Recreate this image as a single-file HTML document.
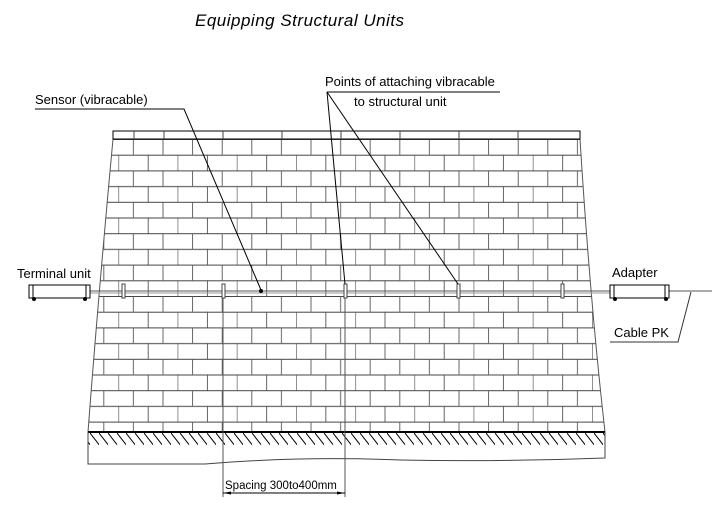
<!DOCTYPE html>
<html><head><meta charset="utf-8"><style>
html,body{margin:0;padding:0;background:#fff;}
svg{display:block;}
text{font-family:"Liberation Sans",sans-serif;fill:#000;}
</style></head><body>
<svg width="725" height="522" viewBox="0 0 725 522" xmlns="http://www.w3.org/2000/svg">
<defs>
<pattern id="br" x="0" y="139" width="59.2" height="31.4" patternUnits="userSpaceOnUse">
<line x1="0" y1="0.5" x2="59.2" y2="0.5" stroke="#444" stroke-width="0.9"/>
<line x1="0" y1="16.2" x2="59.2" y2="16.2" stroke="#444" stroke-width="0.9"/>
<line x1="15" y1="0" x2="15" y2="15.7" stroke="#555" stroke-width="0.9"/>
<line x1="44.6" y1="0" x2="44.6" y2="15.7" stroke="#555" stroke-width="0.9"/>
<line x1="0.2" y1="15.7" x2="0.2" y2="31.4" stroke="#555" stroke-width="0.9"/>
<line x1="29.8" y1="15.7" x2="29.8" y2="31.4" stroke="#555" stroke-width="0.9"/>
</pattern>
<pattern id="hat" x="0" y="432" width="9" height="24" patternUnits="userSpaceOnUse">
<line x1="0" y1="1" x2="14" y2="19" stroke="#000" stroke-width="1"/>
</pattern>
<clipPath id="wall"><path d="M113,139 L580,139 Q590,300 605,432 L88,432 Q98,300 113,139 Z"/></clipPath>
</defs>
<text x="195" y="26" font-size="17" font-style="italic" letter-spacing="0.5">Equipping Structural Units</text>

<rect x="80" y="120" width="540" height="320" fill="url(#br)" clip-path="url(#wall)"/>
<path d="M113,139 Q98,300 88,432" fill="none" stroke="#555"/>
<path d="M580,139 Q590,300 605,432" fill="none" stroke="#555"/>
<rect x="113" y="131" width="467" height="8" fill="none" stroke="#000"/>
<line x1="134" y1="131" x2="134" y2="139" stroke="#444"/>
<line x1="164" y1="131" x2="164" y2="139" stroke="#444"/>
<line x1="223" y1="131" x2="223" y2="139" stroke="#444"/>
<line x1="282" y1="131" x2="282" y2="139" stroke="#444"/>
<line x1="341" y1="131" x2="341" y2="139" stroke="#444"/>
<line x1="400" y1="131" x2="400" y2="139" stroke="#444"/>
<line x1="459" y1="131" x2="459" y2="139" stroke="#444"/>
<line x1="518" y1="131" x2="518" y2="139" stroke="#444"/>
<rect x="88" y="432" width="517" height="20" fill="url(#hat)"/>
<line x1="88" y1="432" x2="605" y2="432" stroke="#000" stroke-width="2"/>
<path d="M88,432 L88,464 L205,464 Q300,456 400,460 Q500,462 605,458 L605,432" fill="none" stroke="#444"/>

<line x1="90" y1="291" x2="712" y2="291" stroke="#555"/>
<line x1="90" y1="293" x2="610" y2="293" stroke="#999"/>
<g fill="#fff" stroke="#444">
<rect x="122" y="284" width="3" height="14"/>
<rect x="222" y="284" width="3" height="14"/>
<rect x="344" y="284" width="3" height="14"/>
<rect x="457" y="284" width="3" height="14"/>
<rect x="561" y="284" width="3" height="14"/>
</g>
<circle cx="261" cy="291" r="2" fill="#000"/>
<g stroke="#000" fill="#fff">
<rect x="29" y="285" width="61" height="13"/>
<line x1="33" y1="285" x2="33" y2="298"/><line x1="86" y1="285" x2="86" y2="298"/>
<circle cx="34" cy="299" r="1.5" fill="#000"/><circle cx="85" cy="299" r="1.5" fill="#000"/>
<rect x="610" y="285" width="59" height="13"/>
<line x1="614" y1="285" x2="614" y2="298"/><line x1="665" y1="285" x2="665" y2="298"/>
<circle cx="615" cy="299" r="1.5" fill="#000"/><circle cx="666" cy="299" r="1.5" fill="#000"/>
</g>
<text x="17" y="278" font-size="13">Terminal unit</text>
<text x="612" y="277" font-size="13">Adapter</text>
<text x="614" y="337" font-size="13">Cable PK</text>
<polyline points="691,292 678,342 610,342" fill="none" stroke="#333"/>

<text x="35" y="104" font-size="13">Sensor (vibracable)</text>
<polyline points="35,109 184,109 261,290" fill="none" stroke="#000"/>
<text x="325" y="86" font-size="13">Points of attaching vibracable</text>
<text x="354" y="106" font-size="13">to structural unit</text>
<line x1="327" y1="92" x2="500" y2="92" stroke="#000"/>
<line x1="327" y1="92" x2="345" y2="284" stroke="#000"/>
<line x1="327" y1="92" x2="458" y2="284" stroke="#000"/>

<line x1="223" y1="298" x2="223" y2="497" stroke="#555"/>
<line x1="345" y1="298" x2="345" y2="497" stroke="#555"/>
<line x1="223" y1="493" x2="345" y2="493" stroke="#000"/>
<path d="M223,493 l8,-1.5 v3 z M345,493 l-8,-1.5 v3 z" fill="#000"/>
<text x="225" y="489" font-size="11.5">Spacing 300to400mm</text>
</svg>
</body></html>
